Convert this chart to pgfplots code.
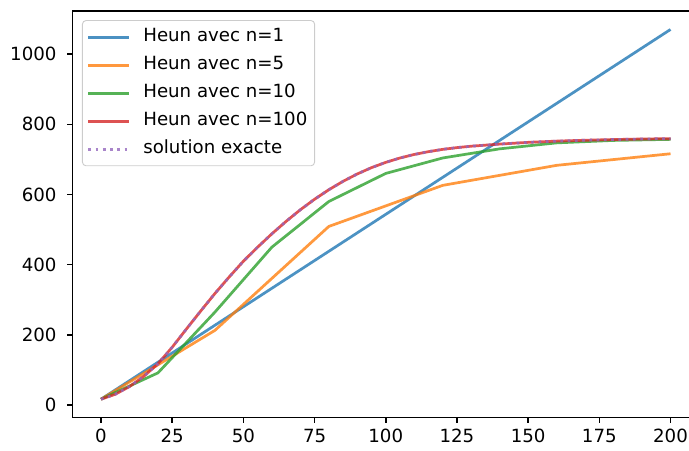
\documentclass[border=0pt]{standalone}
\usepackage{pgfplots}
\pgfplotsset{compat=1.18}
\usepackage{fontspec}
\setmainfont{DejaVu Sans}
\usetikzlibrary{calc}

% matplotlib tab10
\definecolor{c0}{HTML}{1F77B4}
\definecolor{c1}{HTML}{FF7F0E}
\definecolor{c2}{HTML}{2CA02C}
\definecolor{c3}{HTML}{D62728}
\definecolor{c4}{HTML}{9467BD}

\begin{document}
\begin{tikzpicture}
\begin{axis}[
  name=ax,
  scale only axis, width=344.6pt, height=223.7pt,
  xmin=-10, xmax=210, ymin=-35.6, ymax=1122.6,
  xtick={0,25,...,200}, ytick={0,200,...,1000},
  tick pos=left, tick align=outside, major tick length=2.8pt,
  tick style={black, line width=0.8pt},
  axis line style={line width=0.8pt},
  ticklabel style={font=\fontsize{10}{12}\selectfont},
  yticklabel style={xshift=-2.5pt},
  /pgf/number format/assume math mode=true,
  /pgf/number format/1000 sep={},
  legend cell align=left,
  legend image code/.code={\draw[#1] (0pt,0pt) -- (22.5pt,0pt);},
  legend style={at={(0,1)}, anchor=north west, xshift=5.2pt, yshift=-5pt,
    draw=black!20, line width=0.5pt, rounded corners=2pt,
    fill=white, fill opacity=0.8, text opacity=1,
    font=\fontsize{10}{12}\selectfont,
    inner xsep=2.5pt, inner ysep=3pt, row sep=3.1pt, column sep=5.5pt,
    nodes={inner sep=1.5pt, text height=7.3pt, text depth=2pt}},
  every axis plot/.append style={line width=1.5pt, opacity=0.8},
]
\addplot[c0] coordinates {(0,17)(200,1070)};
\addlegendentry{Heun avec n=1}
\addplot[c1] coordinates {(0,17)(40,213)(80,509)(120,626)(160,683)(200,716)};
\addlegendentry{Heun avec n=5}
\addplot[c2] coordinates {(0,17)(20,92)(40,265)(60,450)(80,580)(100,660)(120,704)(140,730)(160,747)(180,754)(200,757)};
\addlegendentry{Heun avec n=10}
\addplot[c3] coordinates {(0,17)(5,31)(10,53)(15,82)(20,118)(25,165)(30,217)(35,268)(40,318)(45,365)(50,410)(55,450)(60,488)(65,523.5)(70,556.5)(75,586.5)(80,613.5)(85,637.5)(90,658.5)(95,676.5)(100,691.5)(105,704)(110,714)(115,722)(120,728.5)(125,733.5)(130,737.5)(140,743.5)(150,748.5)(160,752)(170,754.5)(180,756.5)(190,758)(200,759)};
\addlegendentry{Heun avec n=100}
\addplot[c4, dash pattern=on 1.5pt off 2.5pt] coordinates {(0,17)(5,31)(10,53)(15,82)(20,118)(25,165)(30,217)(35,268)(40,318)(45,365)(50,410)(55,450)(60,488)(65,523.5)(70,556.5)(75,586.5)(80,613.5)(85,637.5)(90,658.5)(95,676.5)(100,691.5)(105,704)(110,714)(115,722)(120,728.5)(125,733.5)(130,737.5)(140,743.5)(150,748.5)(160,752)(170,754.5)(180,756.5)(190,758)(200,759)};
\addlegendentry{solution exacte}
\end{axis}
\pgfresetboundingbox
\path[use as bounding box] ($(ax.south west)+(-39.9pt,-17.8pt)$) rectangle ($(ax.north east)+(-5.5pt,6.05pt)$);
\end{tikzpicture}
\end{document}
